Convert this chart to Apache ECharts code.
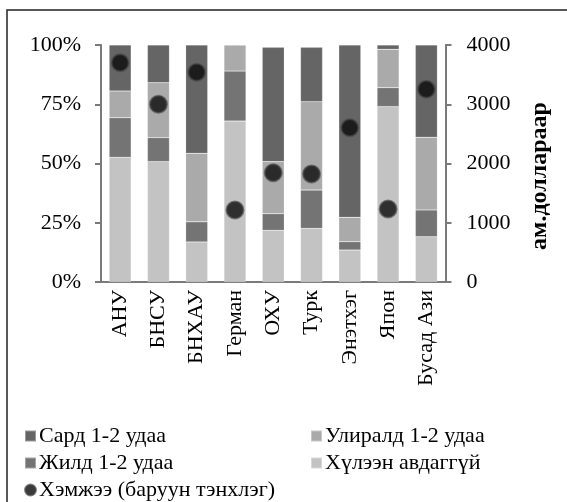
<!DOCTYPE html>
<html>
<head>
<meta charset="utf-8">
<script src="https://cdn.jsdelivr.net/npm/echarts@6/dist/echarts.min.js"></script>
<style>html,body{margin:0;padding:0;background:#fff}#c{width:567px;height:502px}</style>
</head>
<body>
<div id="c"></div>
<script>
const categories = ['АНУ','БНСУ','БНХАУ','Герман','ОХУ','Турк','Энэтхэг','Япон','Бусад Ази'];
const notReceived = [52.6, 50.8, 16.9, 67.9, 21.8, 22.6, 13.5, 74.0, 19.1];
const yearly      = [16.7, 10.1,  8.5, 21.1,  7.0, 16.2,  3.5,  8.0, 11.3];
const quarterly   = [11.3, 23.2, 28.9, 11.0, 22.0, 37.3, 10.3, 16.2, 30.7];
const monthly     = [19.4, 15.9, 45.7,  0.0, 48.2, 22.9, 72.7,  1.8, 38.9];
const amount      = [3700, 3000, 3540, 1215, 1845, 1823, 2604, 1232, 3252];
const leftTicks = [0, 25, 50, 75, 100];
const rightTicks = [0, 1000, 2000, 3000, 4000];

const FONT = 'Liberation Serif';
const chart = echarts.init(document.getElementById('c'), null, {renderer: 'canvas'});
const axisLine = {show: true, lineStyle: {color: '#7a7a7a', width: 2}};
const barSeries = (name, data, color) => ({
  name, type: 'bar', stack: 'a', data, barWidth: 22,
  itemStyle: {color, borderColor: 'rgba(255,255,255,0.35)', borderWidth: 0.5}
});
const legendText = {fontFamily: FONT, fontSize: 22, color: '#000', padding: [0,0,0,-2]};
chart.setOption({
  animation: false,
  textStyle: {fontFamily: FONT, color: '#000'},
  graphic: [
    {type: 'rect', shape: {x: 7, y: 10, width: 570, height: 500},
     style: {fill: 'none', stroke: '#222', lineWidth: 1.5}, z: 100},
    {type: 'text', x: 540, y: 176, rotation: Math.PI / 2,
     style: {text: 'ам.доллараар', fontFamily: FONT, fontSize: 24, fontWeight: 'bold', fill: '#000',
             align: 'center', verticalAlign: 'middle'}}
  ],
  grid: {left: 101, right: 121.5, top: 45, bottom: 220},
  legend: [
    {data: [{name: 'Сард 1-2 удаа', icon: 'rect'}, {name: 'Жилд 1-2 удаа', icon: 'rect'},
            {name: 'Хэмжээ (баруун тэнхлэг)', icon: 'circle'}], orient: 'vertical',
     left: 19, top: 420, height: 120, itemWidth: 11, itemHeight: 11, itemGap: 5, textStyle: legendText},
    {data: [{name: 'Улиралд 1-2 удаа', icon: 'rect'}, {name: 'Хүлээн авдаггүй', icon: 'rect'}], orient: 'vertical',
     left: 305, top: 420, height: 120, itemWidth: 11, itemHeight: 11, itemGap: 5, textStyle: legendText}
  ],
  xAxis: {type: 'category', data: categories, axisLine: axisLine, axisTick: {show: false},
    axisLabel: {rotate: 90, fontSize: 22, color: '#000', fontFamily: FONT, margin: 8}},
  yAxis: [
    {type: 'value', min: leftTicks[0], max: leftTicks[leftTicks.length-1], interval: 25, splitLine: {show: false},
     axisLine: axisLine, axisTick: {show: true, length: 6, lineStyle: {color: '#7a7a7a', width: 2}},
     axisLabel: {formatter: '{value}%', fontSize: 22, color: '#000', fontFamily: FONT, margin: 20}},
    {type: 'value', min: rightTicks[0], max: rightTicks[rightTicks.length-1], interval: 1000, position: 'right', splitLine: {show: false},
     axisLine: axisLine, axisTick: {show: true, length: 6, lineStyle: {color: '#7a7a7a', width: 2}},
     axisLabel: {formatter: v => String(v), fontSize: 22, color: '#000', fontFamily: FONT, margin: 21}}
  ],
  series: [
    barSeries('Хүлээн авдаггүй', notReceived, '#c3c3c3'),
    barSeries('Жилд 1-2 удаа', yearly, '#747474'),
    barSeries('Улиралд 1-2 удаа', quarterly, '#aaaaaa'),
    barSeries('Сард 1-2 удаа', monthly, '#656565'),
    {name: 'Хэмжээ (баруун тэнхлэг)', type: 'scatter', yAxisIndex: 1, data: amount, symbol: 'circle', symbolSize: 17,
     itemStyle: {color: '#0a0a0a', borderColor: 'rgba(70,70,70,0.8)', borderWidth: 2}, z: 10}
  ]
});
</script>
</body>
</html>
